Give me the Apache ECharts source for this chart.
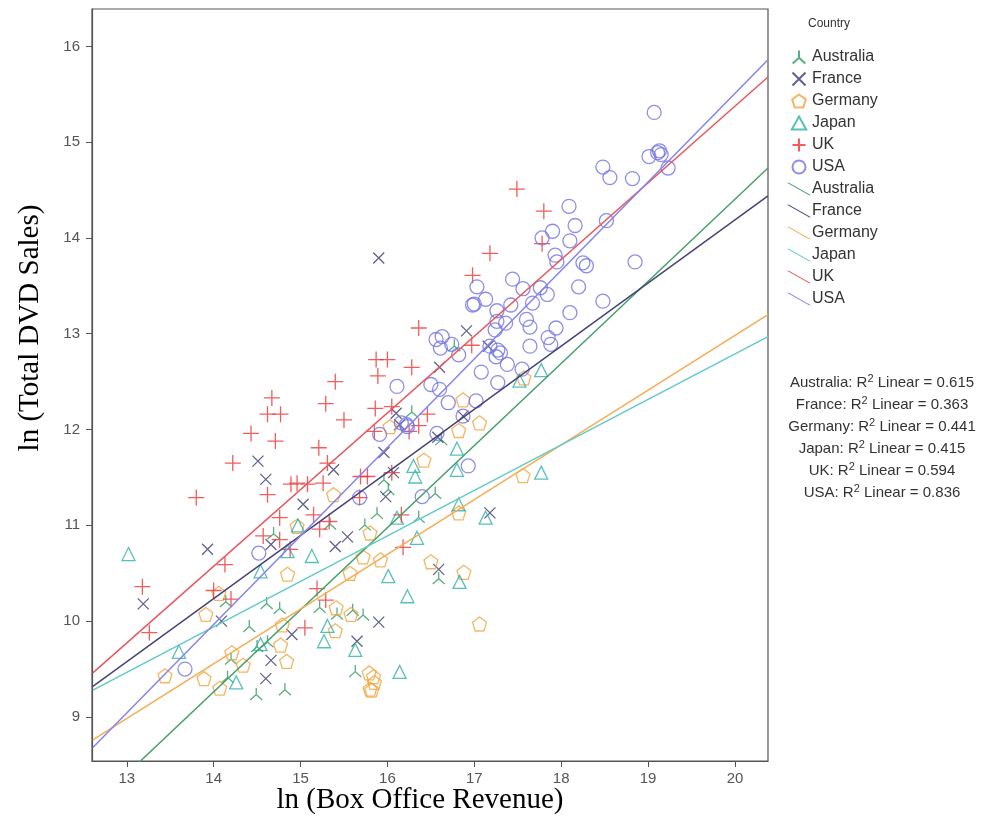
<!DOCTYPE html>
<html>
<head>
<meta charset="utf-8">
<script src="https://cdn.jsdelivr.net/npm/echarts@6/dist/echarts.min.js"></script>
<style>
  html, body { margin: 0; padding: 0; background: #fff; }
  #chart { width: 998px; height: 820px; }
</style>
</head>
<body>
<div id="chart"></div>
<script>
// ln(box office), ln(total dvd sales) per country
const australia = [
  [16.55, 11.34], [16.36, 11.09], [16.59, 10.45], [14.14, 10.21], [14.41, 9.95],
  [14.20, 9.61], [14.16, 9.42], [14.49, 9.24], [14.82, 9.29], [14.50, 9.74],
  [14.62, 9.79], [14.61, 10.19], [14.76, 10.14], [14.69, 10.92], [15.34, 11.02],
  [15.22, 10.15], [15.60, 10.12], [15.72, 10.07], [15.42, 10.08], [15.63, 9.48],
  [15.74, 11.01], [15.88, 11.13], [16.28, 12.19], [15.96, 11.48], [16.01, 11.38],
  [16.77, 12.88], [16.62, 11.90]
];
const france = [
  [15.90, 13.79], [16.91, 13.03], [16.60, 12.65], [17.16, 12.87], [16.87, 12.14],
  [16.10, 12.17], [16.14, 12.05], [15.96, 11.76], [16.07, 11.55], [15.38, 11.58],
  [14.51, 11.67], [14.60, 11.48], [15.03, 11.22], [15.98, 11.30], [16.58, 11.92],
  [17.18, 11.13], [16.59, 10.54], [13.93, 10.75], [13.19, 10.18], [14.09, 10.00],
  [14.66, 10.80], [15.40, 10.78], [15.54, 10.88], [14.90, 9.86], [14.66, 9.59],
  [14.60, 9.40], [15.65, 9.79], [15.90, 9.99]
];
const germany = [
  [17.57, 12.54], [16.87, 12.31], [17.06, 12.07], [16.82, 11.99], [16.42, 11.68],
  [17.56, 11.52], [16.03, 12.03], [15.38, 11.32], [16.82, 11.13], [16.50, 10.62],
  [16.88, 10.51], [17.06, 9.97], [13.44, 9.43], [14.06, 10.29], [13.91, 10.07],
  [14.21, 9.67], [14.34, 9.54], [13.89, 9.40], [14.07, 9.30], [14.77, 9.75],
  [14.84, 9.58], [14.79, 9.96], [14.85, 10.49], [14.96, 10.99], [15.41, 10.14],
  [15.40, 9.90], [15.58, 10.07], [15.72, 10.67], [15.92, 10.64], [15.57, 10.50],
  [15.80, 10.92], [15.79, 9.46], [15.84, 9.42], [15.85, 9.36], [15.80, 9.29],
  [15.82, 9.28]
];
const japan = [
  [17.77, 12.62], [17.52, 12.51], [16.80, 11.80], [16.80, 11.58], [17.77, 11.55],
  [16.30, 11.62], [16.32, 11.51], [16.82, 11.22], [17.13, 11.08], [16.11, 11.08],
  [16.34, 10.87], [16.83, 10.41], [16.23, 10.26], [16.01, 10.47], [16.14, 9.47],
  [13.02, 10.70], [13.60, 9.68], [14.26, 9.36], [14.54, 9.76], [14.54, 10.52],
  [14.85, 10.73], [14.97, 11.00], [15.13, 10.68], [15.31, 9.95], [15.27, 9.79],
  [15.63, 9.70]
];
const uk = [
  [17.49, 14.51], [17.80, 14.28], [17.18, 13.84], [17.78, 13.94], [16.98, 13.61],
  [16.97, 12.88], [16.36, 13.06], [15.87, 12.73], [16.00, 12.73], [16.28, 12.65],
  [15.89, 12.56], [15.40, 12.50], [14.67, 12.33], [15.29, 12.27], [14.62, 12.16],
  [14.77, 12.16], [15.50, 12.10], [14.43, 11.96], [14.71, 11.88], [15.86, 12.22],
  [16.05, 12.24], [14.22, 11.65], [13.80, 11.29], [14.62, 11.32], [15.21, 11.81],
  [15.31, 11.65], [14.89, 11.43], [14.96, 11.44], [15.08, 11.43], [15.26, 11.44],
  [15.69, 11.51], [15.77, 11.51], [16.05, 11.55], [16.36, 12.04], [16.46, 12.16],
  [15.85, 11.98], [15.68, 11.29], [16.16, 11.11], [16.18, 10.77], [13.18, 10.36],
  [13.26, 9.88], [14.13, 10.59], [14.00, 10.32], [14.20, 10.23], [14.57, 10.89],
  [14.76, 10.85], [14.76, 11.08], [14.88, 10.75], [15.05, 9.93], [15.15, 11.11],
  [15.22, 10.96], [15.19, 10.34], [15.29, 10.22], [15.33, 11.04], [16.25, 11.98]
];
const usa = [
  [19.07, 15.31], [19.01, 14.85], [19.11, 14.89], [19.13, 14.91], [19.15, 14.87],
  [19.23, 14.73], [18.48, 14.74], [18.56, 14.63], [18.82, 14.62], [18.09, 14.33],
  [18.52, 14.18], [17.90, 14.07], [17.78, 14.00], [18.16, 14.13], [18.10, 13.97],
  [17.93, 13.82], [17.95, 13.75], [18.25, 13.74], [18.29, 13.71], [18.85, 13.75],
  [17.03, 13.49], [17.44, 13.57], [17.56, 13.47], [17.76, 13.48], [17.84, 13.41],
  [18.20, 13.49], [18.48, 13.34], [16.98, 13.30], [17.00, 13.31], [17.13, 13.36],
  [17.26, 13.24], [17.42, 13.30], [17.67, 13.32], [17.60, 13.15], [18.10, 13.22],
  [17.26, 13.13], [17.36, 13.11], [17.24, 13.04], [17.64, 13.07], [17.94, 13.06],
  [16.56, 12.94], [16.63, 12.97], [16.61, 12.85], [16.74, 12.89], [16.82, 12.78],
  [17.18, 12.87], [17.27, 12.83], [17.30, 12.80], [17.25, 12.76], [17.64, 12.87],
  [17.85, 12.96], [17.88, 12.89], [17.38, 12.68], [17.55, 12.63], [17.08, 12.60],
  [17.27, 12.49], [16.50, 12.47], [16.60, 12.42], [16.70, 12.28], [17.02, 12.30],
  [16.57, 11.96], [16.93, 11.62], [16.40, 11.30], [16.11, 12.45], [15.91, 11.95],
  [16.16, 12.07], [16.22, 12.05], [16.23, 12.03], [15.68, 11.29], [13.67, 9.50],
  [14.52, 10.71], [16.87, 12.14]
];

// fit lines, ends at the axis extent
const fitAustralia = [[12.61, 8.07], [20.38, 14.73]];
const fitFrance = [[12.61, 9.32], [20.38, 14.44]];
const fitGermany = [[12.61, 8.76], [20.38, 13.20]];
const fitJapan = [[12.61, 9.28], [20.38, 12.97]];
const fitUK = [[12.61, 9.46], [20.38, 15.68]];
const fitUSA = [[12.61, 8.68], [20.38, 15.86]];

const countries = ["Australia", "France", "Germany", "Japan", "UK", "USA"];
const rSquared = [0.615, 0.363, 0.441, 0.415, 0.594, 0.836];
const xTicks = [13, 14, 15, 16, 17, 18, 19, 20];
const yTicks = [9, 10, 11, 12, 13, 14, 15, 16];

const points = [australia, france, germany, japan, uk, usa];
const fits = [fitAustralia, fitFrance, fitGermany, fitJapan, fitUK, fitUSA];

const markColors = ["#2e9a5f", "#3b3a72", "#f2a43c", "#2fb0a8", "#ee3535", "#7272e4"];
const lineColors = ["#45a06c", "#45437a", "#f6ad52", "#62cbc6", "#e8585c", "#8484ec"];
const symbols = [
  "path://M5,0L5,5M5,5L0.6,9M5,5L9.4,9",
  "path://M0,0L10,10M10,0L0,10",
  "path://M5,0L10,3.6L8.1,9.5L1.9,9.5L0,3.6Z",
  "path://M5,0L10,9L0,9Z",
  "path://M5,0L5,10M0,5L10,5",
  "circle"
];
const sizes = [12, 11, 14, 13, 16, 14];
const lineIcon = "path://M0,0L1.6,0L20,10.5L18.4,10.5Z";

const chart = echarts.init(document.getElementById("chart"));
const font = "'Liberation Sans', Arial, sans-serif";
const serif = "'Liberation Serif', 'Times New Roman', serif";

const series = [];
countries.forEach((c, i) => {
  series.push({
    name: c,
    type: "scatter",
    data: points[i],
    symbol: symbols[i],
    symbolSize: sizes[i],
    itemStyle: { color: "rgba(0,0,0,0)", borderColor: markColors[i], borderWidth: 1.3 },
    z: 3
  });
});
countries.forEach((c, i) => {
  series.push({
    name: c + " fit",
    type: "line",
    data: fits[i],
    symbol: "none",
    color: lineColors[i],
    lineStyle: { color: lineColors[i], width: 1.5 },
    z: 4
  });
});

const legendData = countries.map(c => ({ name: c }))
  .concat(countries.map(c => ({ name: c + " fit", icon: lineIcon })));

const r2Text = countries.map((c, i) => ({
  type: "text",
  x: 882,
  y: 383 + i * 21.9,
  style: {
    text: "{a|" + c + ": R}{s|2}{a| Linear = " + rSquared[i].toFixed(3) + "}",
    align: "center",
    verticalAlign: "middle",
    rich: {
      a: { fontSize: 15, fontFamily: font, fill: "#333", lineHeight: 18 },
      s: { fontSize: 11, fontFamily: font, fill: "#333", lineHeight: 18, padding: [0, 0, 8, 0] }
    }
  }
}));

chart.setOption({
  animation: false,
  backgroundColor: "#fff",
  grid: { left: 92, right: 230, top: 9, bottom: 59, show: true, borderColor: "#555", borderWidth: 1.2 },
  xAxis: {
    type: "value",
    min: 12.6,
    max: 20.38,
    splitLine: { show: false },
    axisLine: { show: true, onZero: false, lineStyle: { color: "#555", width: 1.2 } },
    axisTick: { show: true, length: 6, lineStyle: { color: "#555" }, customValues: xTicks },
    axisLabel: { margin: 10, fontSize: 15, color: "#555", fontFamily: font, customValues: xTicks }
  },
  yAxis: {
    type: "value",
    min: 8.54,
    max: 16.39,
    splitLine: { show: false },
    axisLine: { show: true, onZero: false, lineStyle: { color: "#555", width: 1.2 } },
    axisTick: { show: true, length: 6, lineStyle: { color: "#555" }, customValues: yTicks },
    axisLabel: { margin: 12, fontSize: 15, color: "#555", fontFamily: font, customValues: yTicks }
  },
  legend: {
    orient: "vertical",
    left: 782,
    top: 44,
    itemWidth: 24,
    itemHeight: 13,
    itemGap: 6,
    data: legendData,
    formatter: name => name.replace(" fit", ""),
    textStyle: { fontSize: 16, lineHeight: 16, color: "#333", fontFamily: font, padding: [0, 0, 0, -4] }
  },
  graphic: [
    { type: "text", x: 808, y: 24, style: { text: "Country", fontSize: 12, fontFamily: font, fill: "#333", verticalAlign: "middle" } },
    { type: "text", x: 420, y: 800, style: { text: "ln (Box Office Revenue)", fontSize: 29, fontFamily: serif, fill: "#000", align: "center", verticalAlign: "middle" } },
    { type: "text", x: 30, y: 328, rotation: Math.PI / 2, style: { text: "ln (Total DVD Sales)", fontSize: 29, fontFamily: serif, fill: "#000", align: "center", verticalAlign: "middle" } }
  ].concat(r2Text),
  series: series
});
</script>
</body>
</html>
